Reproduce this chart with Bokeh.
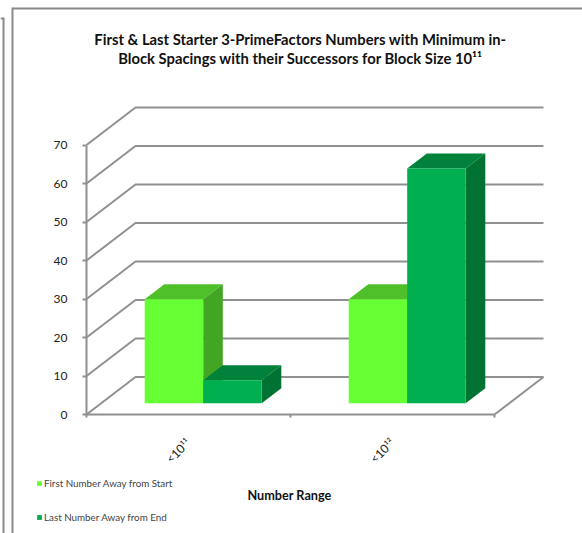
from bokeh.embed import file_html
from bokeh.models import BoxAnnotation, FixedTicker, Label, Legend, LegendItem, Range1d
from bokeh.plotting import figure
from bokeh.resources import INLINE

title_text = "First & Last Starter 3-PrimeFactors Numbers with Minimum in-\nBlock Spacings with their Successors for Block Size 10¹¹"
x_title = "Number Range"
categories = ["<10¹¹", "<10¹²"]
first_number = [27, 27]
last_number = [6, 61]
series_names = ["First Number Away from Start", "Last Number Away from End"]
y_ticks = [0, 10, 20, 30, 40, 50, 60, 70]

W, H = 582, 533
ORIGIN_X, ORIGIN_Y = 86, 414
PX_X = 204.0   # pixels per category
PX_Y = 3.85    # pixels per value unit
DEPTH_X = 49 / PX_X     # full floor depth, in category units
DEPTH_Y = 37.5 / PX_Y   # full floor depth, in value units

GRID = "#909090"
FIRST = ("#66ff33", "#50c02a", "#42a624")
LAST = ("#00b050", "#00823a", "#007332")


def to_x(px):
    return (px - ORIGIN_X) / PX_X


def to_y(py):
    return (ORIGIN_Y - py) / PX_Y


p = figure(
    width=W, height=H, output_backend="svg", toolbar_location=None,
    x_range=Range1d(to_x(0), to_x(W)),
    y_range=Range1d(to_y(H), to_y(0)),
    min_border=0,
    outline_line_color=None, background_fill_color="white",
)
p.grid.visible = False


def project(x, v, z):
    """Oblique projection of (category position, value, depth 0..1)."""
    return x + z * DEPTH_X, v + z * DEPTH_Y


# Walls and floor
for v in y_ticks:
    xa, ya = project(0, v, 0)
    xb, yb = project(0, v, 1)
    xc, yc = project(2, v, 1)
    p.line([xa, xb, xc], [ya, yb, yc], line_color=GRID, line_width=2)
xa, ya = project(2, 0, 0)
xb, yb = project(2, 0, 1)
p.line([xa, xb], [ya, yb], line_color=GRID, line_width=2)

BAR_W = 58.5 / PX_X
Z0, Z1 = 0.3, 0.7


def bar(center, start, v, colors):
    x0 = center + start * BAR_W
    x1 = x0 + BAR_W
    lx, by = project(x0, 0, Z0)
    rx, _ = project(x1, 0, Z0)
    ty = project(x0, v, Z0)[1]
    xs_top = [lx, rx, project(x1, v, Z1)[0], project(x0, v, Z1)[0]]
    ys_top = [ty, ty, project(x1, v, Z1)[1], project(x0, v, Z1)[1]]
    p.patch(xs_top, ys_top, fill_color=colors[1], line_color=None)
    xs_side = [rx, project(x1, 0, Z1)[0], project(x1, v, Z1)[0], rx]
    ys_side = [by, project(x1, 0, Z1)[1], project(x1, v, Z1)[1], ty]
    p.patch(xs_side, ys_side, fill_color=colors[2], line_color=None)
    return p.quad(left=[lx], right=[rx], bottom=[by], top=[ty], fill_color=colors[0], line_color=None)


handles = [None, None]
for i in range(len(categories)):
    handles[0] = bar(i + 0.5, -1, first_number[i], FIRST)
    handles[1] = bar(i + 0.5, 0, last_number[i], LAST)

# Axes sit inside the plot area at the value and category origins
left_axis = p.yaxis[0]
left_axis.fixed_location = 0
left_axis.ticker = FixedTicker(ticks=y_ticks)
left_axis.bounds = (0, 70)
left_axis.axis_line_color = GRID
left_axis.axis_line_width = 2
left_axis.major_tick_line_color = GRID
left_axis.major_tick_line_width = 2
left_axis.major_tick_in = 0
left_axis.major_tick_out = 4
left_axis.minor_tick_line_color = None
left_axis.major_label_text_font = "Lato"
left_axis.major_label_text_font_size = "12px"
left_axis.major_label_text_color = "#222222"
left_axis.major_label_standoff = 15

bottom_axis = p.xaxis[0]
bottom_axis.fixed_location = 0
bottom_axis.ticker = FixedTicker(ticks=[0.5, 1.5], minor_ticks=[0, 1, 2])
bottom_axis.bounds = (0, 2)
bottom_axis.axis_line_color = GRID
bottom_axis.axis_line_width = 2
bottom_axis.major_tick_line_color = None
bottom_axis.minor_tick_line_color = GRID
bottom_axis.minor_tick_line_width = 2
bottom_axis.minor_tick_in = 0
bottom_axis.minor_tick_out = 3
bottom_axis.major_label_overrides = {0.5: categories[0], 1.5: categories[1]}
bottom_axis.major_label_orientation = 0.785
bottom_axis.major_label_text_font = "Lato"
bottom_axis.major_label_text_font_size = "12px"
bottom_axis.major_label_text_color = "#222222"
bottom_axis.major_label_standoff = 20

# Legend below the plot, stacked at the left
legend = Legend(
    items=[LegendItem(label=series_names[0], renderers=[handles[0]]),
           LegendItem(label=series_names[1], renderers=[handles[1]])],
    location=(36, H - 523), orientation="vertical",
    border_line_color=None, background_fill_alpha=0,
    padding=0, margin=0, spacing=22,
    glyph_width=6, glyph_height=6, label_standoff=2, label_height=8,
    label_text_font="Lato", label_text_font_size="9.8px", label_text_color="#444444",
)
p.add_layout(legend, "center")

# Titles
p.add_layout(Label(
    x=to_x(300), y=to_y(48), text=title_text,
    text_font="Lato", text_font_style="bold", text_font_size="14.8px",
    text_align="center", text_baseline="middle", text_color="#111111",
    text_line_height=1.08,
))
p.add_layout(Label(
    x=to_x(289), y=to_y(494), text=x_title,
    text_font="Lato", text_font_style="bold", text_font_size="12.7px",
    text_align="center", text_baseline="middle", text_color="#111111",
))

# Surrounding sheet border
for left, right, top, bottom in [
    (12, 582, 7, 9), (11, 13, 7, 533),
    (2, 4, 18, 533), (0, 4, 17, 19),
]:
    p.add_layout(BoxAnnotation(
        left=to_x(left), right=to_x(right), top=to_y(top), bottom=to_y(bottom),
        fill_color="#8a8a8a", fill_alpha=1, line_color=None,
    ))

open("out.html", "w").write(file_html(p, INLINE))
